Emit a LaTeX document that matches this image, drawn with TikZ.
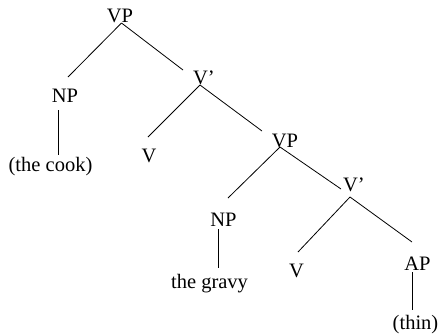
\documentclass[tikz,border=0pt]{standalone}
\usepackage{fontspec}
\setmainfont{Liberation Serif}
\begin{document}
\begin{tikzpicture}[x=1pt,y=-1pt,
  lbl/.style={inner sep=0pt,outer sep=0pt,anchor=base,font=\fontsize{20.5}{24}\selectfont},
  lblw/.style={lbl,anchor=base west},
  branch/.style={draw=black,line width=0.8pt}]
\useasboundingbox (0,0) rectangle (441,335);
% nodes
\node[lbl]  (VP1)   at (120,22)    {VP};
\node[lbl]  (NP1)   at (65,102)    {NP};
\node[lbl]  (cook)  at (50.5,171)  {(the cook)};
\node[lblw] (Vb1)   at (193,84)    {V'};
\node[lbl]  (V1)    at (149,162)   {V};
\node[lbl]  (VP2)   at (285,147)   {VP};
\node[lbl]  (NP2)   at (223.5,226) {NP};
\node[lbl]  (gravy) at (209.5,288) {the gravy};
\node[lblw] (Vb2)   at (343,191)   {V'};
\node[lbl]  (V2)    at (296.5,277) {V};
\node[lbl]  (AP)    at (417.5,270) {AP};
\node[lbl]  (thin)  at (415.5,329) {(thin)};
% branches
\draw[branch] ([xshift=1.5pt,yshift=-1pt]VP1.base) -- ([xshift=3pt,yshift=25pt]NP1.base);
\draw[branch] ([xshift=1.5pt,yshift=-1pt]VP1.base) -- ([xshift=-10pt,yshift=14pt]Vb1.base west);
\draw[branch] ([xshift=-7pt,yshift=-8pt]NP1.base) -- ([xshift=7.5pt,yshift=16pt]cook.base);
\draw[branch] ([xshift=7pt,yshift=-1pt]Vb1.base west) -- ([xshift=-1pt,yshift=25pt]V1.base);
\draw[branch] ([xshift=7pt,yshift=-1pt]Vb1.base west) -- ([xshift=-23pt,yshift=16pt]VP2.base);
\draw[branch] ([xshift=-5pt,yshift=0pt]VP2.base) -- ([xshift=4.5pt,yshift=28pt]NP2.base);
\draw[branch] ([xshift=-5pt,yshift=0pt]VP2.base) -- ([xshift=-2pt,yshift=2pt]Vb2.base west);
\draw[branch] ([xshift=-5.5pt,yshift=-3pt]NP2.base) -- ([xshift=8.5pt,yshift=20pt]gravy.base);
\draw[branch] ([xshift=7pt,yshift=-6pt]Vb2.base west) -- ([xshift=1.5pt,yshift=25pt]V2.base);
\draw[branch] ([xshift=7pt,yshift=-6pt]Vb2.base west) -- ([xshift=-5.5pt,yshift=28pt]AP.base);
\draw[branch] ([xshift=-5.5pt,yshift=-2pt]AP.base) -- ([xshift=-3.5pt,yshift=19pt]thin.base);
\end{tikzpicture}
\end{document}
